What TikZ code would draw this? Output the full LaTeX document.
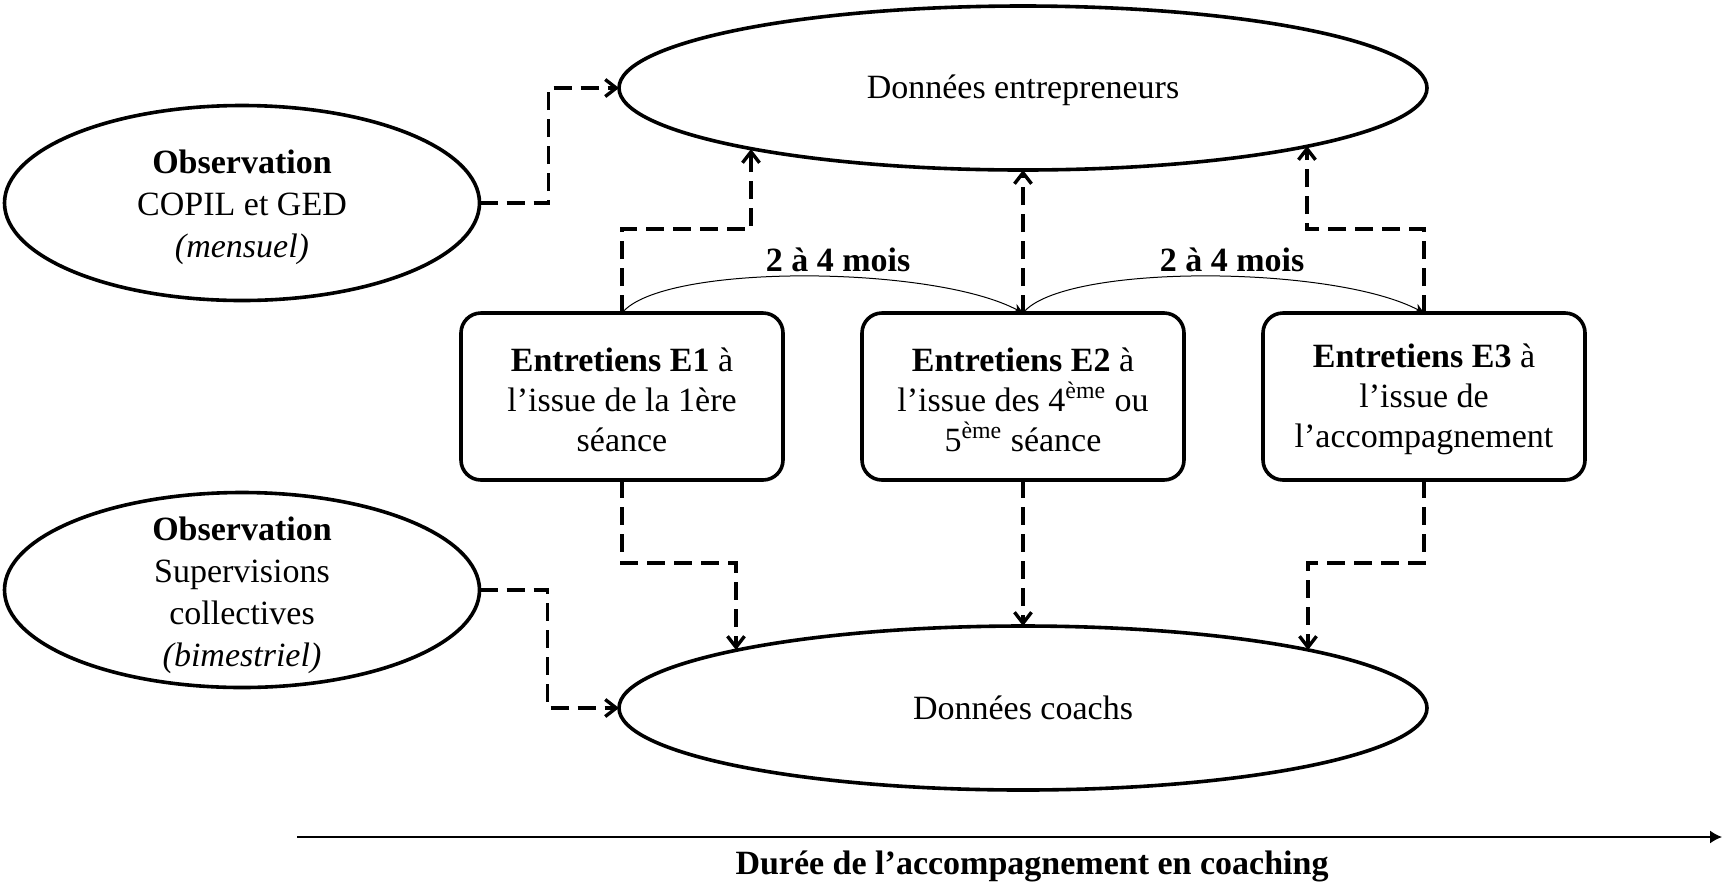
\documentclass[tikz,border=0pt]{standalone}
\usepackage{fontspec}
\setmainfont{Liberation Serif}
\usetikzlibrary{shapes.geometric,arrows.meta,calc}
\begin{document}
\begin{tikzpicture}[x=0.5pt,y=-0.5pt,
  every node/.style={font=\fontsize{17pt}{21pt}\selectfont},
  ell/.style={ellipse,draw,line width=1.8pt,inner sep=0pt,outer sep=0pt},
  bigell/.style={ell,minimum width=404pt,minimum height=82pt},
  smallell/.style={ell,minimum width=237.5pt,minimum height=97.5pt},
  box/.style={draw,line width=1.8pt,rounded corners=10pt,minimum width=161pt,minimum height=83.5pt,inner sep=0pt,outer sep=0pt},
  txt/.style={align=center,inner sep=0pt},
  boxtxt/.style={align=center,inner sep=0pt,font=\fontsize{17pt}{20pt}\selectfont},
  dasharrow/.style={line width=1.7pt,dash pattern=on 9pt off 4.5pt,-{Straight Barb[length=5.5pt,width=8.5pt]}},
  curvearrow/.style={line width=0.5pt,-{Stealth[length=5pt,width=5pt]}},
  timearrow/.style={line width=0.75pt,-{Latex[length=6pt,width=6.5pt]}}
]
\useasboundingbox (0,0) rectangle (1724,885);

% big ellipses
\node[bigell] (topell) at (1023,88) {};
\node[txt] (topt) at ([yshift=-1pt]topell.center) {Données entrepreneurs};
\node[bigell] (botell) at (1023,708) {};
\node[txt] (bott) at (botell) {Données coachs};

% observation ellipses
\node[smallell] (obs1) at (242,203) {};
\node[txt] (obs1t) at ([yshift=-2.25pt]obs1.center) {\textbf{Observation}\\COPIL et GED\\\textit{(mensuel)}};
\node[smallell] (obs2) at (242,590) {};
\node[txt] (obs2t) at ([yshift=-2.5pt]obs2.center) {\textbf{Observation}\\Supervisions\\collectives\\\textit{(bimestriel)}};

% interview boxes
\node[box] (e1) at (622,396.5) {};
\node[boxtxt] (e1t) at ([yshift=-1.6pt]e1.center) {\textbf{Entretiens E1} à\\l’issue de la 1ère\\séance};
\node[box] (e2) at (1023,396.5) {};
\node[boxtxt] (e2t) at ([yshift=-1.6pt]e2.center) {\textbf{Entretiens E2} à\\l’issue des 4\textsuperscript{ème} ou\\5\textsuperscript{ème} séance};
\node[box] (e3) at (1424,396.5) {};
\node[boxtxt] (e3t) at ([yshift=-1.6pt]e3.center) {\textbf{Entretiens E3} à\\l’issue de\\l’accompagnement};

% labels
\node[txt] (lab1) at (838,260) {\textbf{2 à 4 mois}};
\node[txt] (lab2) at (1232,260) {\textbf{2 à 4 mois}};

% dashed connectors to top ellipse
\draw[dasharrow] (e1.north) -- ++(0,-84) -| ($(topell.center)+(-272,61)$);
\draw[dasharrow] (e2.north) -- (topell.south);
\draw[dasharrow] (e3.north) -- ++(0,-84) -| ($(topell.center)+(284,58)$);

% dashed connectors to bottom ellipse
\draw[dasharrow] (e1.south) -- ++(0,83) -| ($(botell.center)+(-287,-58)$);
\draw[dasharrow] (e2.south) -- (botell.north);
\draw[dasharrow] (e3.south) -- ++(0,83) -| ($(botell.center)+(285,-58)$);

% observation connectors
\draw[dasharrow] (obs1.east) -- ++(69,0) |- (topell.west);
\draw[dasharrow] (obs2.east) -- ++(68,0) |- (botell.west);

% curved time arrows
\draw[curvearrow] (e1.north) .. controls +(40,-50) and +(-90,-48) .. (e2.north);
\draw[curvearrow] (e2.north) .. controls +(40,-50) and +(-90,-48) .. (e3.north);

% timeline
\coordinate (tl0) at (297,837);
\coordinate (tl1) at (1722,837);
\draw[timearrow] (tl0) -- (tl1);
\node[txt] (dur) at (1032,866) {\textbf{Durée de l’accompagnement en coaching}};
\end{tikzpicture}
\end{document}
